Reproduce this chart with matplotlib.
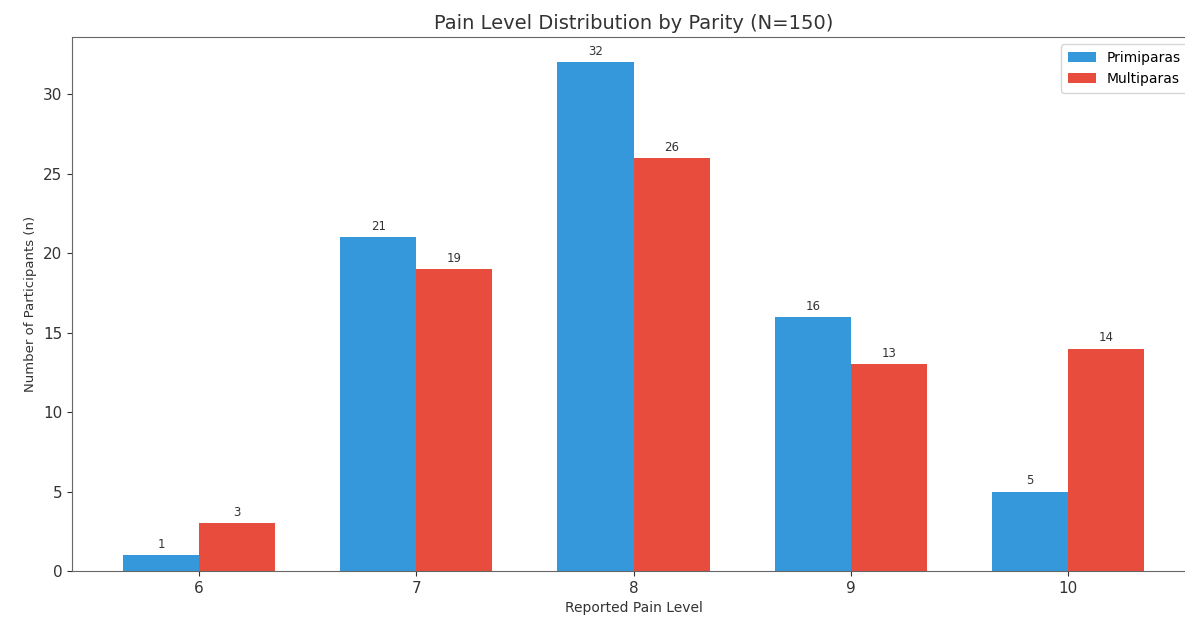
import matplotlib
matplotlib.use('Agg')
import matplotlib.pyplot as plt
import numpy as np

plt.rcParams['font.family'] = ['DejaVu Sans']

pain_levels = [6, 7, 8, 9, 10]
primiparas = [1, 21, 32, 16, 5]
multiparas = [3, 19, 26, 13, 14]

x = np.array(pain_levels)
width = 0.35

fig = plt.figure(figsize=(11.85, 6.21), dpi=100)
ax = fig.add_axes([0.0608, 0.0805, 0.9476, 0.8599])

b1 = ax.bar(x - width / 2, primiparas, width, label='Primiparas', color='#3498db')
b2 = ax.bar(x + width / 2, multiparas, width, label='Multiparas', color='#e74c3c')

for bars in (b1, b2):
    for bar in bars:
        h = bar.get_height()
        ax.annotate(f'{int(h)}', xy=(bar.get_x() + bar.get_width() / 2, h),
                    xytext=(0, 3), textcoords='offset points',
                    ha='center', va='bottom', fontsize=8.5, color='#333333')

ax.set_xticks(x)
ax.set_xticklabels([str(v) for v in pain_levels])
ax.tick_params(labelsize=11, colors='#333333')
ax.set_xlabel('Reported Pain Level', fontsize=10, color='#333333')
ax.set_ylabel('Number of Participants (n)', fontsize=9.5, color='#333333')
ax.set_title('Pain Level Distribution by Parity (N=150)', fontsize=14, color='#333333')
for s in ax.spines.values():
    s.set_color('#666666')
ax.spines['right'].set_visible(False)
ax.legend(loc='upper right', fontsize=10, borderpad=0.5)

plt.savefig('out.png', dpi=100)
